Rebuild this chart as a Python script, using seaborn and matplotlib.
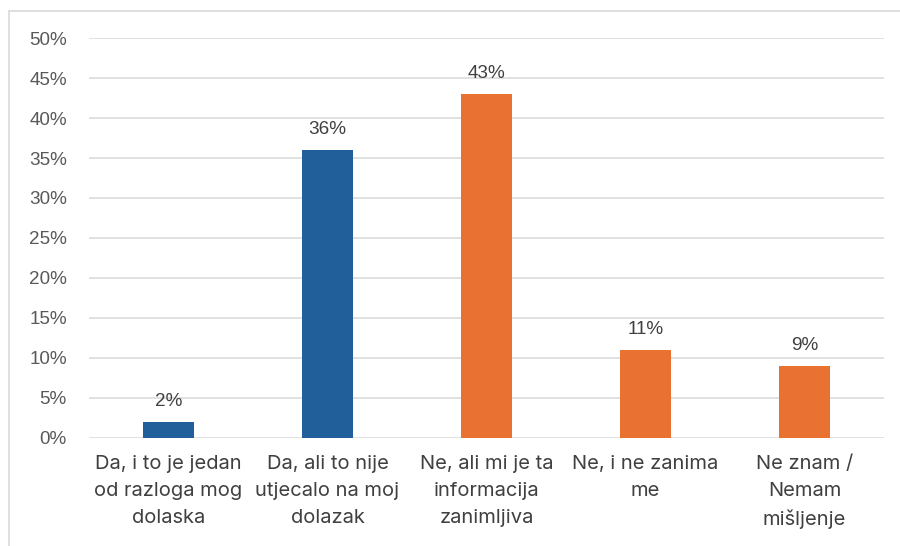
import matplotlib
matplotlib.use("Agg")
import matplotlib.pyplot as plt
from matplotlib.lines import Line2D
import seaborn as sns
import pandas as pd

categories = [
    "Da, i to je jedan\nod razloga mog\ndolaska",
    "Da, ali to nije\nutjecalo na moj\ndolazak",
    "Ne, ali mi je ta\ninformacija\nzanimljiva",
    "Ne, i ne zanima\nme",
    "Ne znam /\nNemam\nmišljenje",
]
values = [2, 36, 43, 11, 9]
bar_colors = ["#215F9A", "#215F9A", "#E97132", "#E97132", "#E97132"]
y_ticks = [0, 5, 10, 15, 20, 25, 30, 35, 40, 45, 50]

sns.set_theme(style="white")
plt.rcParams["font.family"] = ["Liberation Sans", "DejaVu Sans"]

df = pd.DataFrame({"cat": categories, "val": values})

fig = plt.figure(figsize=(9, 5.46), dpi=100)
ax = fig.add_axes([89 / 900, 108 / 546, 795 / 900, 400 / 546])

sns.barplot(data=df, x="cat", y="val", hue="cat", palette=bar_colors,
            width=0.315, legend=False, ax=ax, saturation=1, linewidth=0)

ax.set_xlim(-0.5, 4.5)
ax.set_ylim(0, 50)
ax.set_yticks(y_ticks)
ax.set_yticklabels([f"{t}%" for t in y_ticks])
ax.yaxis.grid(True, color="#D9D9D9", linewidth=1.1)
ax.set_axisbelow(True)
for s in ax.spines.values():
    s.set_visible(False)
ax.tick_params(axis="y", length=0, pad=16, labelsize=13.6, labelcolor="#595959")
ax.tick_params(axis="x", length=0, pad=12, labelsize=14.5, labelcolor="#404040")
for lbl in ax.get_xticklabels():
    lbl.set_fontfamily(["Inter", "DejaVu Sans"])
    lbl.set_linespacing(1.65)
ax.set_xlabel("")
ax.set_ylabel("")

for i, v in enumerate(values):
    ax.annotate(f"{v}%", (i, v), xytext=(0, 9), textcoords="offset points",
                ha="center", va="bottom", fontsize=13.6, color="#404040")

# outer frame lines
fig.add_artist(Line2D([8.5 / 900, 1], [1 - 10.5 / 546, 1 - 10.5 / 546],
                      transform=fig.transFigure, color="#D9D9D9", linewidth=1.2))
fig.add_artist(Line2D([8.5 / 900, 8.5 / 900], [0, 1 - 10.5 / 546],
                      transform=fig.transFigure, color="#D9D9D9", linewidth=1.2))

fig.savefig("out.png", dpi=100)
